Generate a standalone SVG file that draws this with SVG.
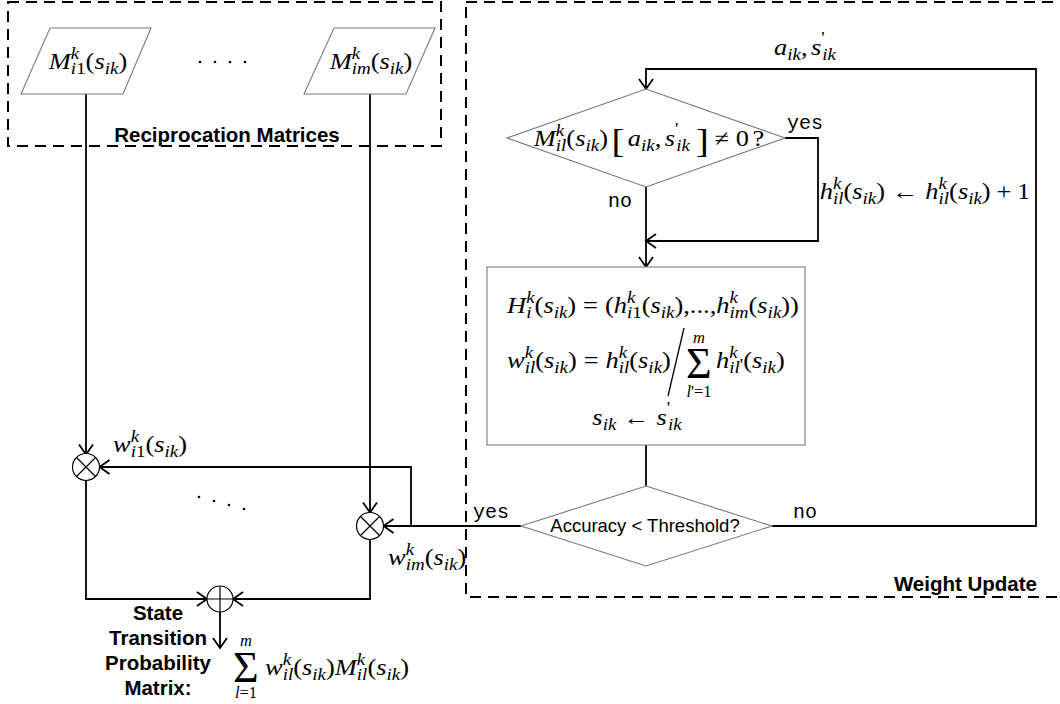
<svg xmlns="http://www.w3.org/2000/svg" width="1060" height="704" viewBox="0 0 1060 704">
<style>
.bg{fill:#fff}
.dash{fill:none;stroke:#000;stroke-width:2;stroke-dasharray:11 7}
.shape{fill:#fff;stroke:#7a7a7a;stroke-width:1.1}
.con{fill:none;stroke:#000;stroke-width:1.8}
.op{fill:#fff;stroke:#000;stroke-width:1.2}
.opl{stroke:#000;stroke-width:1.2}
.m{font-family:"Liberation Serif","Times New Roman",serif;font-size:23px;fill:#000}
.i{font-style:italic}
.s{font-size:16.5px}
.b{font-size:34px}
.sig{font-size:44px}
.lbl{font-family:"Liberation Sans",Arial,sans-serif;font-weight:bold;font-size:20.5px;fill:#000}
.tt{font-family:"Liberation Mono","Courier New",monospace;font-size:20px;fill:#000}
.acc{font-family:"Liberation Sans",Arial,sans-serif;font-size:18.5px;fill:#000}
</style>
<defs>
<marker id="arr" markerUnits="userSpaceOnUse" markerWidth="12" markerHeight="16" viewBox="0 0 12 16" refX="11" refY="8" orient="auto" overflow="visible">
<path d="M1,1 L11,8 L1,15" fill="none" stroke="#000" stroke-width="1.8"/>
</marker>
</defs>
<rect class="bg" x="0" y="0" width="1060" height="704"/>

<g id="containers">
<rect class="dash" x="8" y="2" width="433" height="144"/>
<rect class="dash" x="466" y="2" width="700" height="595"/>
<text class="lbl" x="227" y="142" text-anchor="middle">Reciprocation Matrices</text>
<text class="lbl" x="1037" y="591" text-anchor="end">Weight Update</text>
</g>

<g id="connectors">
<path class="con" d="M86,94 V454.5" marker-end="url(#arr)"/>
<path class="con" d="M370,94 V512.5" marker-end="url(#arr)"/>
<path class="con" d="M521,526 H383.5" marker-end="url(#arr)"/>
<path class="con" d="M411,526 V467 H99.5" marker-end="url(#arr)"/>
<path class="con" d="M86,480.5 V599 H207" marker-end="url(#arr)"/>
<path class="con" d="M370,539.5 V599 H233" marker-end="url(#arr)"/>
<path class="con" d="M220,612 V648" marker-end="url(#arr)"/>
<path class="con" d="M772,526 H1036 V69 H646 V89" marker-end="url(#arr)"/>
<path class="con" d="M785,138 H818 V241 H646" marker-end="url(#arr)"/>
<path class="con" d="M646,187 V267" marker-end="url(#arr)"/>
<path class="con" d="M646,445 V486"/>
<text class="tt" x="787" y="129">yes</text>
<text class="tt" x="608" y="207">no</text>
<text class="tt" x="473" y="518">yes</text>
<text class="tt" x="793" y="518">no</text>
<text class="m" transform="translate(805 55) scale(1.15 1)" text-anchor="middle"><tspan class="i">a</tspan><tspan class="s i" dy="5">ik</tspan><tspan dy="-5">,</tspan><tspan class="i" dx="3">s</tspan><tspan class="s" dy="-12">'</tspan><tspan class="s i" dx="-2" dy="17">ik</tspan></text>
<text class="m" transform="translate(925 199) scale(1.15 1)" text-anchor="middle"><tspan class="i">h</tspan><tspan class="s i" dy="-10">k</tspan><tspan class="s i" dx="-7.3" dy="15">il</tspan><tspan dy="-5">(</tspan><tspan class="i">s</tspan><tspan class="s i" dy="5">ik</tspan><tspan dy="-5">)</tspan><tspan dx="6">←</tspan><tspan class="i" dx="6">h</tspan><tspan class="s i" dy="-10">k</tspan><tspan class="s i" dx="-7.3" dy="15">il</tspan><tspan dy="-5">(</tspan><tspan class="i">s</tspan><tspan class="s i" dy="5">ik</tspan><tspan dy="-5">)</tspan><tspan dx="5">+</tspan><tspan dx="5">1</tspan></text>
<text class="m" transform="translate(113 452) scale(1.15 1)"><tspan class="i">w</tspan><tspan class="s i" dy="-10">k</tspan><tspan class="s" dx="-7.3" dy="15"><tspan class="i">i</tspan>1</tspan><tspan dy="-5">(</tspan><tspan class="i">s</tspan><tspan class="s i" dy="5">ik</tspan><tspan dy="-5">)</tspan></text>
<text class="m" transform="translate(388 565) scale(1.15 1)"><tspan class="i">w</tspan><tspan class="s i" dy="-10">k</tspan><tspan class="s i" dx="-7.3" dy="15">im</tspan><tspan dy="-5">(</tspan><tspan class="i">s</tspan><tspan class="s i" dy="5">ik</tspan><tspan dy="-5">)</tspan></text>
</g>

<g id="node-M1">
<polygon class="shape" points="50,28 151,28 123,94 21,94"/>
<text class="m" transform="translate(88 69) scale(1.15 1)" text-anchor="middle"><tspan class="i">M</tspan><tspan class="s i" dy="-10">k</tspan><tspan class="s" dx="-7.3" dy="15"><tspan class="i">i</tspan>1</tspan><tspan dy="-5">(</tspan><tspan class="i">s</tspan><tspan class="s i" dy="5">ik</tspan><tspan dy="-5">)</tspan></text>
</g>
<g id="node-dots-top">
<circle cx="200" cy="62" r="1.3"/><circle cx="215" cy="62" r="1.3"/><circle cx="230" cy="62" r="1.3"/><circle cx="245" cy="62" r="1.3"/>
</g>
<g id="node-Mm">
<polygon class="shape" points="334,28 435,28 406,94 304,94"/>
<text class="m" transform="translate(371 69) scale(1.15 1)" text-anchor="middle"><tspan class="i">M</tspan><tspan class="s i" dy="-10">k</tspan><tspan class="s i" dx="-7.3" dy="15">im</tspan><tspan dy="-5">(</tspan><tspan class="i">s</tspan><tspan class="s i" dy="5">ik</tspan><tspan dy="-5">)</tspan></text>
</g>

<g id="node-check">
<polygon class="shape" points="646,89 785,138 646,187 507,138"/>
<text class="m" transform="translate(649 146) scale(1.15 1)" text-anchor="middle"><tspan class="i">M</tspan><tspan class="s i" dy="-10">k</tspan><tspan class="s i" dx="-7.3" dy="15">il</tspan><tspan dy="-5">(</tspan><tspan class="i">s</tspan><tspan class="s i" dy="5">ik</tspan><tspan dy="-5">)</tspan><tspan class="b" dx="3" dy="6">[</tspan><tspan class="i" dx="3" dy="-6">a</tspan><tspan class="s i" dy="5">ik</tspan><tspan dy="-5">,</tspan><tspan class="i" dx="3">s</tspan><tspan class="s" dy="-12">'</tspan><tspan class="s i" dx="-2" dy="17">ik</tspan><tspan class="b" dx="5" dy="1">]</tspan><tspan dx="5" dy="-6">≠</tspan><tspan dx="6">0</tspan><tspan dx="3">?</tspan></text>
</g>

<g id="node-update">
<rect class="shape" x="487" y="267" width="318" height="178"/>
<text class="m" transform="translate(653 313) scale(1.15 1)" text-anchor="middle"><tspan class="i">H</tspan><tspan class="s i" dy="-10">k</tspan><tspan class="s i" dx="-7.3" dy="15">i</tspan><tspan dx="2.7" dy="-5">(</tspan><tspan class="i">s</tspan><tspan class="s i" dy="5">ik</tspan><tspan dy="-5">)</tspan><tspan dx="6">=</tspan><tspan dx="6">(</tspan><tspan class="i">h</tspan><tspan class="s i" dy="-10">k</tspan><tspan class="s" dx="-7.3" dy="15"><tspan class="i">i</tspan>1</tspan><tspan dy="-5">(</tspan><tspan class="i">s</tspan><tspan class="s i" dy="5">ik</tspan><tspan dy="-5">),...,</tspan><tspan class="i">h</tspan><tspan class="s i" dy="-10">k</tspan><tspan class="s i" dx="-7.3" dy="15">im</tspan><tspan dy="-5">(</tspan><tspan class="i">s</tspan><tspan class="s i" dy="5">ik</tspan><tspan dy="-5">))</tspan></text>
<text class="m" transform="translate(507 368) scale(1.15 1)"><tspan class="i">w</tspan><tspan class="s i" dy="-10">k</tspan><tspan class="s i" dx="-7.3" dy="15">il</tspan><tspan dy="-5">(</tspan><tspan class="i">s</tspan><tspan class="s i" dy="5">ik</tspan><tspan dy="-5">)</tspan><tspan dx="6">=</tspan><tspan class="i" dx="6">h</tspan><tspan class="s i" dy="-10">k</tspan><tspan class="s i" dx="-7.3" dy="15">il</tspan><tspan dy="-5">(</tspan><tspan class="i">s</tspan><tspan class="s i" dy="5">ik</tspan><tspan dy="-5">)</tspan></text>
<line x1="684" y1="328" x2="668" y2="396" stroke="#000" stroke-width="1.3"/>
<text class="m sig" x="686" y="378">Σ</text>
<text class="m s i" x="699" y="343" text-anchor="middle">m</text>
<text class="m s" x="699" y="397" text-anchor="middle"><tspan class="i">l</tspan>'=1</text>
<text class="m" transform="translate(716 368) scale(1.15 1)"><tspan class="i">h</tspan><tspan class="s i" dy="-10">k</tspan><tspan class="s i" dx="-7.3" dy="15">il</tspan><tspan class="s" dy="-3">'</tspan><tspan dy="-2">(</tspan><tspan class="i">s</tspan><tspan class="s i" dy="5">ik</tspan><tspan dy="-5">)</tspan></text>
<text class="m" transform="translate(637 425) scale(1.15 1)" text-anchor="middle"><tspan class="i">s</tspan><tspan class="s i" dy="5">ik</tspan><tspan dx="6" dy="-5">←</tspan><tspan class="i" dx="6">s</tspan><tspan class="s" dy="-12">'</tspan><tspan class="s i" dx="-2" dy="17">ik</tspan></text>
</g>

<g id="node-threshold">
<polygon class="shape" points="646,486 772,526 646,566 521,526"/>
<text class="acc" x="645" y="532" text-anchor="middle">Accuracy &lt; Threshold?</text>
</g>

<g id="node-mul1">
<circle class="op" cx="86" cy="467" r="13.5"/>
<path class="opl" d="M76.5,457.5 L95.5,476.5 M95.5,457.5 L76.5,476.5"/>
</g>
<g id="node-mulm">
<circle class="op" cx="370" cy="526" r="13.5"/>
<path class="opl" d="M360.5,516.5 L379.5,535.5 M379.5,516.5 L360.5,535.5"/>
</g>
<g id="node-dots-bottom">
<circle cx="199" cy="497" r="1.3"/><circle cx="214" cy="501" r="1.3"/><circle cx="229" cy="505" r="1.3"/><circle cx="244" cy="509" r="1.3"/>
</g>
<g id="node-sum">
<circle class="op" cx="220" cy="599" r="13"/>
<path class="opl" d="M207,599 H233 M220,586 V612"/>
</g>

<g id="node-output">
<text class="lbl" x="158" y="620" text-anchor="middle">State</text>
<text class="lbl" x="158" y="645" text-anchor="middle">Transition</text>
<text class="lbl" x="158" y="670" text-anchor="middle">Probability</text>
<text class="lbl" x="158" y="695" text-anchor="middle">Matrix:</text>
<text class="m sig" x="233" y="682">Σ</text>
<text class="m s i" x="246" y="646" text-anchor="middle">m</text>
<text class="m s" x="246" y="698" text-anchor="middle"><tspan class="i">l</tspan>=1</text>
<text class="m" transform="translate(265 675) scale(1.15 1)"><tspan class="i">w</tspan><tspan class="s i" dy="-10">k</tspan><tspan class="s i" dx="-7.3" dy="15">il</tspan><tspan dy="-5">(</tspan><tspan class="i">s</tspan><tspan class="s i" dy="5">ik</tspan><tspan dy="-5">)</tspan><tspan class="i">M</tspan><tspan class="s i" dy="-10">k</tspan><tspan class="s i" dx="-7.3" dy="15">il</tspan><tspan dy="-5">(</tspan><tspan class="i">s</tspan><tspan class="s i" dy="5">ik</tspan><tspan dy="-5">)</tspan></text>
</g>
</svg>
